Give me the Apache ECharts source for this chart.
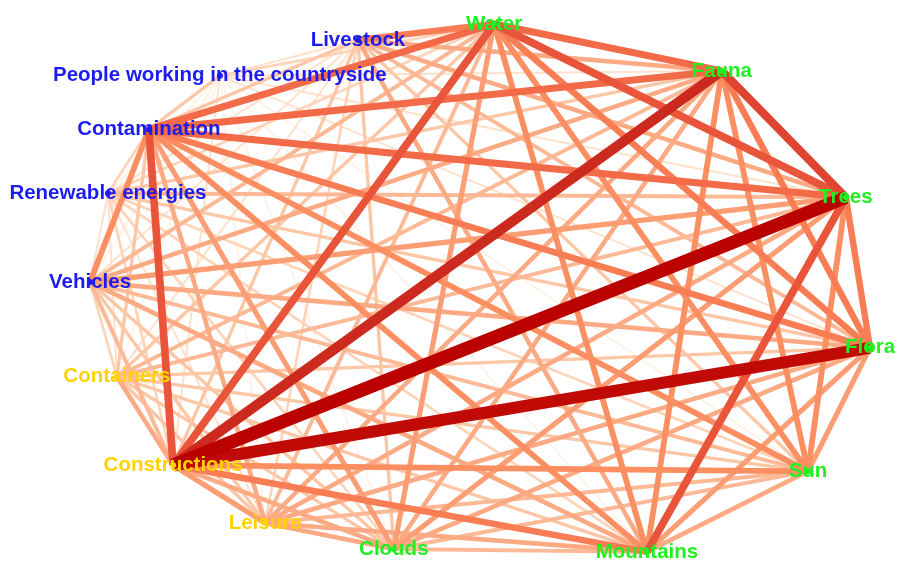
<!DOCTYPE html>
<html>
<head>
<meta charset="utf-8">
<script src="https://cdn.jsdelivr.net/npm/echarts@6/dist/echarts.min.js"></script>
<style>
  html, body { margin: 0; padding: 0; background: #fff; }
  #chart { width: 898px; height: 566px; }
</style>
</head>
<body>
<div id="chart"></div>
<script>
// nodes (layout coordinates, ellipse normalised to -1..1)
var nodeNames = ['Water', 'Fauna', 'Trees', 'Flora', 'Sun', 'Mountains', 'Clouds',
    'Leisure', 'Constructions', 'Containers',
    'Vehicles', 'Renewable energies', 'Contamination', 'People working in the countryside', 'Livestock'];
var nodeGroup = ['nature', 'nature', 'nature', 'nature', 'nature', 'nature', 'nature',
    'built', 'built', 'built',
    'human', 'human', 'human', 'human', 'human'];
var nodeX = [0.036, 0.62, 0.938, 1.0, 0.841, 0.428, -0.221, -0.551, -0.787, -0.931, -1.0, -0.954, -0.849, -0.667, -0.313];
var nodeY = [1.0, 0.823, 0.346, -0.222, -0.688, -0.992, -0.981, -0.883, -0.665, -0.331, 0.026, 0.361, 0.602, 0.805, 0.94];

// links: [source, target, weight]
var links = [
    [0, 1, 5], [0, 2, 5.5], [0, 3, 4.5], [0, 4, 4], [0, 5, 4], [0, 6, 3.5],
    [0, 7, 2.5], [0, 8, 5.5], [0, 9, 2], [0, 10, 2.5], [0, 11, 1.5], [0, 12, 5], [0, 13, 1.5], [0, 14, 4.5],
    [1, 2, 6], [1, 3, 4.5], [1, 4, 4], [1, 5, 4], [1, 6, 3],
    [1, 7, 3], [1, 8, 7.5], [1, 9, 2.5], [1, 10, 3], [1, 11, 2], [1, 12, 5], [1, 13, 1], [1, 14, 3],
    [2, 3, 4.5], [2, 4, 4], [2, 5, 5.5], [2, 6, 3.5],
    [2, 7, 3], [2, 8, 10], [2, 9, 2.5], [2, 10, 3.5], [2, 11, 2.5], [2, 12, 5], [2, 13, 1], [2, 14, 3],
    [3, 4, 3.5], [3, 5, 3.5], [3, 6, 3],
    [3, 7, 3], [3, 8, 9], [3, 9, 2], [3, 10, 3], [3, 11, 2], [3, 12, 4.5], [3, 13, 1], [3, 14, 2.5],
    [4, 5, 3], [4, 6, 2.5],
    [4, 7, 2.5], [4, 8, 4], [4, 9, 2], [4, 10, 2.5], [4, 11, 1.5], [4, 12, 4], [4, 13, 0.5], [4, 14, 2],
    [5, 6, 2.5],
    [5, 7, 3], [5, 8, 4.5], [5, 9, 2], [5, 10, 3], [5, 11, 1.5], [5, 12, 4], [5, 13, 0.5], [5, 14, 3],
    [6, 7, 3], [6, 8, 3], [6, 9, 2], [6, 10, 2], [6, 11, 1.5], [6, 12, 3.5], [6, 13, 0.5], [6, 14, 2],
    [7, 8, 3.5], [7, 9, 2], [7, 10, 2], [7, 11, 1], [7, 12, 3], [7, 13, 0.5], [7, 14, 1.5],
    [8, 9, 3], [8, 10, 2.5], [8, 11, 1.5], [8, 12, 5.5], [8, 13, 1], [8, 14, 2],
    [9, 10, 1.5], [9, 11, 1], [9, 12, 2], [9, 13, 0.5], [9, 14, 1],
    [10, 11, 1], [10, 12, 4], [10, 13, 0.5], [10, 14, 1],
    [11, 12, 1.5], [11, 13, 0.5], [11, 14, 1],
    [12, 13, 2], [12, 14, 2],
    [13, 14, 1]
];

var groupColor = { nature: '#1ff01f', built: '#ffd200', human: '#1c1cf2' };

// weight -> colour ramp (light peach to dark red)
var ramp = [
    [0.5, [255, 240, 226]], [1, [254, 226, 205]], [2, [253, 198, 165]], [3, [252, 170, 132]],
    [4, [252, 143, 98]], [4.5, [249, 125, 84]], [5, [242, 106, 71]], [5.5, [232, 85, 58]],
    [6, [222, 68, 47]], [7.5, [205, 42, 31]], [9, [191, 10, 6]], [10, [187, 0, 0]]
];
function edgeColor(w) {
    if (w <= ramp[0][0]) return 'rgb(' + ramp[0][1].join(',') + ')';
    for (var i = 1; i < ramp.length; i++) {
        if (w <= ramp[i][0]) {
            var a = ramp[i - 1], b = ramp[i];
            var t = (w - a[0]) / (b[0] - a[0]);
            var c = a[1].map(function (v, k) { return Math.round(v + (b[1][k] - v) * t); });
            return 'rgb(' + c.join(',') + ')';
        }
    }
    return 'rgb(187,0,0)';
}
function edgeWidth(w) {
    return 0.8 + 1.25 * w;
}

var nodes = nodeNames.map(function (name, i) {
    return {
        name: name,
        value: [nodeX[i], nodeY[i]],
        itemStyle: { color: groupColor[nodeGroup[i]] },
        label: { color: groupColor[nodeGroup[i]] }
    };
});

var edges = links.slice().sort(function (a, b) { return a[2] - b[2]; }).map(function (l) {
    return {
        source: l[0],
        target: l[1],
        value: l[2],
        lineStyle: { color: edgeColor(l[2]), width: edgeWidth(l[2]), opacity: 1 }
    };
});

var chart = echarts.init(document.getElementById('chart'));
chart.setOption({
    animation: false,
    backgroundColor: '#fff',
    grid: { left: 90, right: 28, top: 24, bottom: 12 },
    xAxis: { type: 'value', min: -1, max: 1, show: false },
    yAxis: { type: 'value', min: -1, max: 1, show: false },
    series: [{
        type: 'graph',
        layout: 'none',
        coordinateSystem: 'cartesian2d',
        symbol: 'circle',
        symbolSize: 6,
        data: nodes,
        links: edges,
        label: {
            show: true,
            position: 'inside',
            fontFamily: 'Liberation Sans',
            fontWeight: 'bold',
            fontSize: 20.5
        },
        lineStyle: { curveness: 0 },
        emphasis: { disabled: true }
    }]
});
</script>
</body>
</html>
